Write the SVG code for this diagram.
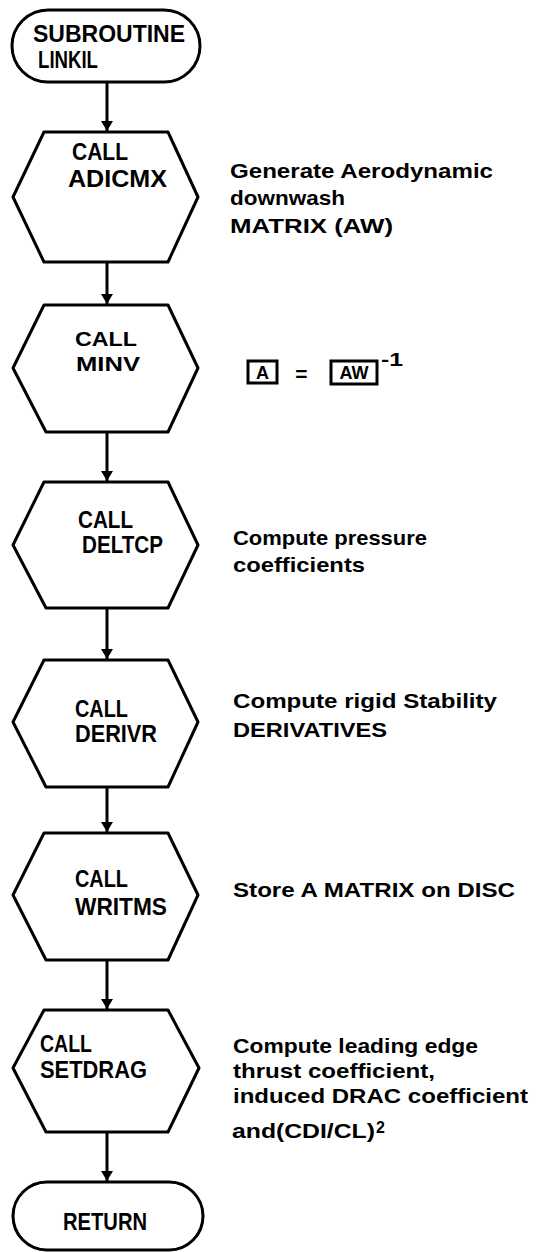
<svg xmlns="http://www.w3.org/2000/svg" width="536" height="1252" viewBox="0 0 536 1252">
<style>
.shape{fill:#fff;stroke:#000;stroke-width:3;stroke-linejoin:round}
.lbl{font-family:"Liberation Sans",Arial,sans-serif;font-weight:bold;font-size:24px;fill:#000}
.note{font-family:"Liberation Sans",Arial,sans-serif;font-weight:bold;font-size:21px;fill:#000}
.conn{stroke:#000;stroke-width:3;fill:none}
</style>
<defs>
<marker id="ah" viewBox="0 0 10 12" refX="10" refY="6" markerWidth="10" markerHeight="12" markerUnits="userSpaceOnUse" orient="auto">
<path d="M0,0 L10,6 L0,12 z" fill="#000"/>
</marker>
</defs>
<rect width="536" height="1252" fill="#fff"/>
<g id="connectors">
<line class="conn" x1="107" y1="82" x2="107" y2="131" marker-end="url(#ah)"/>
<line class="conn" x1="107" y1="262" x2="107" y2="304" marker-end="url(#ah)"/>
<line class="conn" x1="107" y1="432" x2="107" y2="481" marker-end="url(#ah)"/>
<line class="conn" x1="107" y1="608" x2="107" y2="659" marker-end="url(#ah)"/>
<line class="conn" x1="107" y1="787" x2="107" y2="832" marker-end="url(#ah)"/>
<line class="conn" x1="107" y1="960" x2="107" y2="1009" marker-end="url(#ah)"/>
<line class="conn" x1="107" y1="1132" x2="107" y2="1181" marker-end="url(#ah)"/>
</g>
<g id="start">
<rect class="shape" x="12" y="10" width="188" height="72" rx="36" ry="36"/>
<text class="lbl" x="33" y="42" textLength="152" lengthAdjust="spacingAndGlyphs">SUBROUTINE</text>
<text class="lbl" x="38" y="68" textLength="60" lengthAdjust="spacingAndGlyphs">LINKIL</text>
</g>
<g id="adicmx">
<polygon class="shape" points="44,132 168,132 198,197 168,262 44,262 13,197"/>
<text class="lbl" x="72" y="160" textLength="56" lengthAdjust="spacingAndGlyphs">CALL</text>
<text class="lbl" x="68" y="187" textLength="99" lengthAdjust="spacingAndGlyphs">ADICMX</text>
<text class="note" x="230" y="178" textLength="263" lengthAdjust="spacingAndGlyphs">Generate Aerodynamic</text>
<text class="note" x="230" y="205" textLength="115" lengthAdjust="spacingAndGlyphs">downwash</text>
<text class="note" x="230" y="233" textLength="163" lengthAdjust="spacingAndGlyphs">MATRIX (AW)</text>
</g>
<g id="minv">
<polygon class="shape" points="44,305 168,305 198,368 168,432 46,432 13,368"/>
<text class="lbl" x="75" y="346" style="font-size:21px" textLength="62" lengthAdjust="spacingAndGlyphs">CALL</text>
<text class="lbl" x="76" y="371" style="font-size:21px" textLength="64" lengthAdjust="spacingAndGlyphs">MINV</text>
<rect x="248" y="361" width="29" height="22" fill="none" stroke="#000" stroke-width="3"/>
<text class="note" x="262.5" y="379" text-anchor="middle" style="font-size:18px">A</text>
<text class="note" x="301.5" y="381" text-anchor="middle">=</text>
<rect x="331" y="361" width="46" height="23" fill="none" stroke="#000" stroke-width="3"/>
<text class="note" x="354" y="379" text-anchor="middle" style="font-size:18px">AW</text>
<text class="note" x="381" y="366" style="font-size:18px" textLength="22" lengthAdjust="spacingAndGlyphs">-1</text>
</g>
<g id="deltcp">
<polygon class="shape" points="44,482 168,482 198,545 168,608 46,608 13,545"/>
<text class="lbl" x="78" y="528" textLength="55" lengthAdjust="spacingAndGlyphs">CALL</text>
<text class="lbl" x="82" y="553" textLength="81" lengthAdjust="spacingAndGlyphs">DELTCP</text>
<text class="note" x="233" y="545" textLength="194" lengthAdjust="spacingAndGlyphs">Compute pressure</text>
<text class="note" x="233" y="572" textLength="132" lengthAdjust="spacingAndGlyphs">coefficients</text>
</g>
<g id="derivr">
<polygon class="shape" points="44,660 168,660 198,722 168,787 46,787 13,722"/>
<text class="lbl" x="75" y="717" textLength="53" lengthAdjust="spacingAndGlyphs">CALL</text>
<text class="lbl" x="75" y="742" textLength="82" lengthAdjust="spacingAndGlyphs">DERIVR</text>
<text class="note" x="233" y="708" textLength="264" lengthAdjust="spacingAndGlyphs">Compute rigid Stability</text>
<text class="note" x="233" y="737" textLength="154" lengthAdjust="spacingAndGlyphs">DERIVATIVES</text>
</g>
<g id="writms">
<polygon class="shape" points="44,833 168,833 198,895 168,960 46,960 13,895"/>
<text class="lbl" x="75" y="887" textLength="53" lengthAdjust="spacingAndGlyphs">CALL</text>
<text class="lbl" x="75" y="915" textLength="92" lengthAdjust="spacingAndGlyphs">WRITMS</text>
<text class="note" x="233" y="897" textLength="282" lengthAdjust="spacingAndGlyphs">Store A MATRIX on DISC</text>
</g>
<g id="setdrag">
<polygon class="shape" points="44,1010 168,1010 199,1068 168,1132 46,1132 13,1068"/>
<text class="lbl" x="40" y="1052" textLength="52" lengthAdjust="spacingAndGlyphs">CALL</text>
<text class="lbl" x="40" y="1078" textLength="107" lengthAdjust="spacingAndGlyphs">SETDRAG</text>
<text class="note" x="233" y="1053" textLength="245" lengthAdjust="spacingAndGlyphs">Compute leading edge</text>
<text class="note" x="233" y="1078" textLength="202" lengthAdjust="spacingAndGlyphs">thrust coefficient,</text>
<text class="note" x="233" y="1103" textLength="295" lengthAdjust="spacingAndGlyphs">induced DRAC  coefficient</text>
<text class="note" x="232" y="1138" textLength="143" lengthAdjust="spacingAndGlyphs">and(CDI/CL)</text>
<text class="note" x="376" y="1133" style="font-size:16px">2</text>
</g>
<g id="return">
<rect class="shape" x="13" y="1182" width="190" height="68" rx="34" ry="34"/>
<text class="lbl" x="63" y="1230" textLength="84" lengthAdjust="spacingAndGlyphs">RETURN</text>
</g>
</svg>
